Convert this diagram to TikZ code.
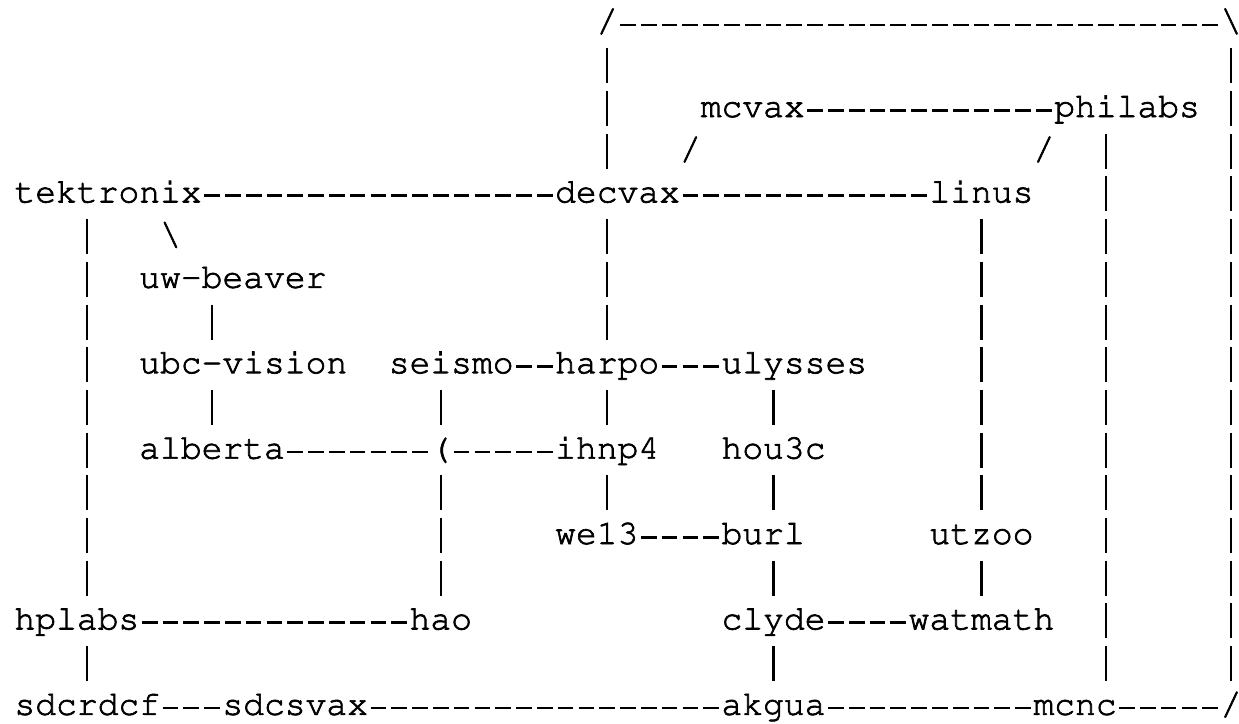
\documentclass[tikz,border=0pt]{standalone}
\usepackage[T1]{fontenc}
\usepackage{tikz}
\newcommand{\hostfont}{\fontfamily{pcr}\fontsize{17.33pt}{20pt}\selectfont}
\tikzset{
  host/.style={anchor=base west,inner sep=0pt,outer sep=0pt,font=\hostfont,
    execute at begin node={\special{pdf:literal direct 2 Tr 0.35 w}},
    execute at end node={\special{pdf:literal direct 0 Tr}}},
  hlink/.style={line width=1.35pt,dash pattern=on 7.85pt off 2.5475pt,shorten <=1.274pt,shorten >=1.274pt},
  vlink/.style={line width=1.2pt,dash pattern=on 17.5pt off 3.85pt,shorten <=8.35pt,shorten >=16.85pt}
}

\begin{document}
\begin{tikzpicture}[x=10.3975pt,y=-21.35pt]
\useasboundingbox (-0.697,0.26) rectangle (58.884,17.215);
% sites
\foreach \h/\c/\r in {mcvax/33/3,philabs/50/3,tektronix/0/5,decvax/26/5,linus/44/5,
  uw-beaver/6/7,ubc-vision/6/9,seismo/18/9,harpo/26/9,ulysses/34/9,
  alberta/6/11,ihnp4/26/11,hou3c/34/11,we13/26/13,burl/34/13,utzoo/44/13,
  hplabs/0/15,hao/19/15,clyde/34/15,watmath/43/15,
  sdcrdcf/0/17,sdcsvax/10/17,akgua/34/17,mcnc/49/17}
  \node[host] (\h) at (\c,\r) {\h};
% corners, slants and the crossing
\node[host] (nw) at (28,1) {/};
\node[host] (ne) at (58,1) {\textbackslash};
\node[host] (se) at (58,17) {/};
\node[host] (cross) at (20,11) {(};
\node[host] (dm) at (32,4) {/};
\node[host] (lp) at (49,4) {/};
\node[host] (tu) at (7,6) {\textbackslash};
% horizontal links
\foreach \a/\b in {nw/ne,mcvax/philabs,tektronix/decvax,decvax/linus,seismo/harpo,harpo/ulysses,
  alberta/cross,cross/ihnp4,we13/burl,hplabs/hao,clyde/watmath,
  sdcrdcf/sdcsvax,sdcsvax/akgua,akgua/mcnc,mcnc/se}
  \draw[hlink] ([yshift=3.35pt]\a.base east) -- ([yshift=3.35pt]\b.base west);
% vertical links
\foreach \a/\i/\b/\j in {tektronix/3.5/hplabs/3.5,hplabs/3.5/sdcrdcf/3.5,
  uw-beaver/3.5/ubc-vision/3.5,ubc-vision/3.5/alberta/3.5,
  seismo/2.5/cross/0.5,cross/0.5/hao/1.5,
  nw/0.5/decvax/2.5,decvax/2.5/harpo/2.5,harpo/2.5/ihnp4/2.5,ihnp4/2.5/we13/2.5,
  ulysses/2.5/hou3c/2.5,hou3c/2.5/burl/2.5,burl/2.5/clyde/2.5,clyde/2.5/akgua/2.5,
  linus/2.5/utzoo/2.5,utzoo/2.5/watmath/3.5,philabs/2.5/mcnc/3.5,ne/0.5/se/0.5}
  \draw[vlink] ([shift={(\i,0)}]\a.base west) -- ([shift={(\j,0)}]\b.base west);
\end{tikzpicture}
\end{document}
